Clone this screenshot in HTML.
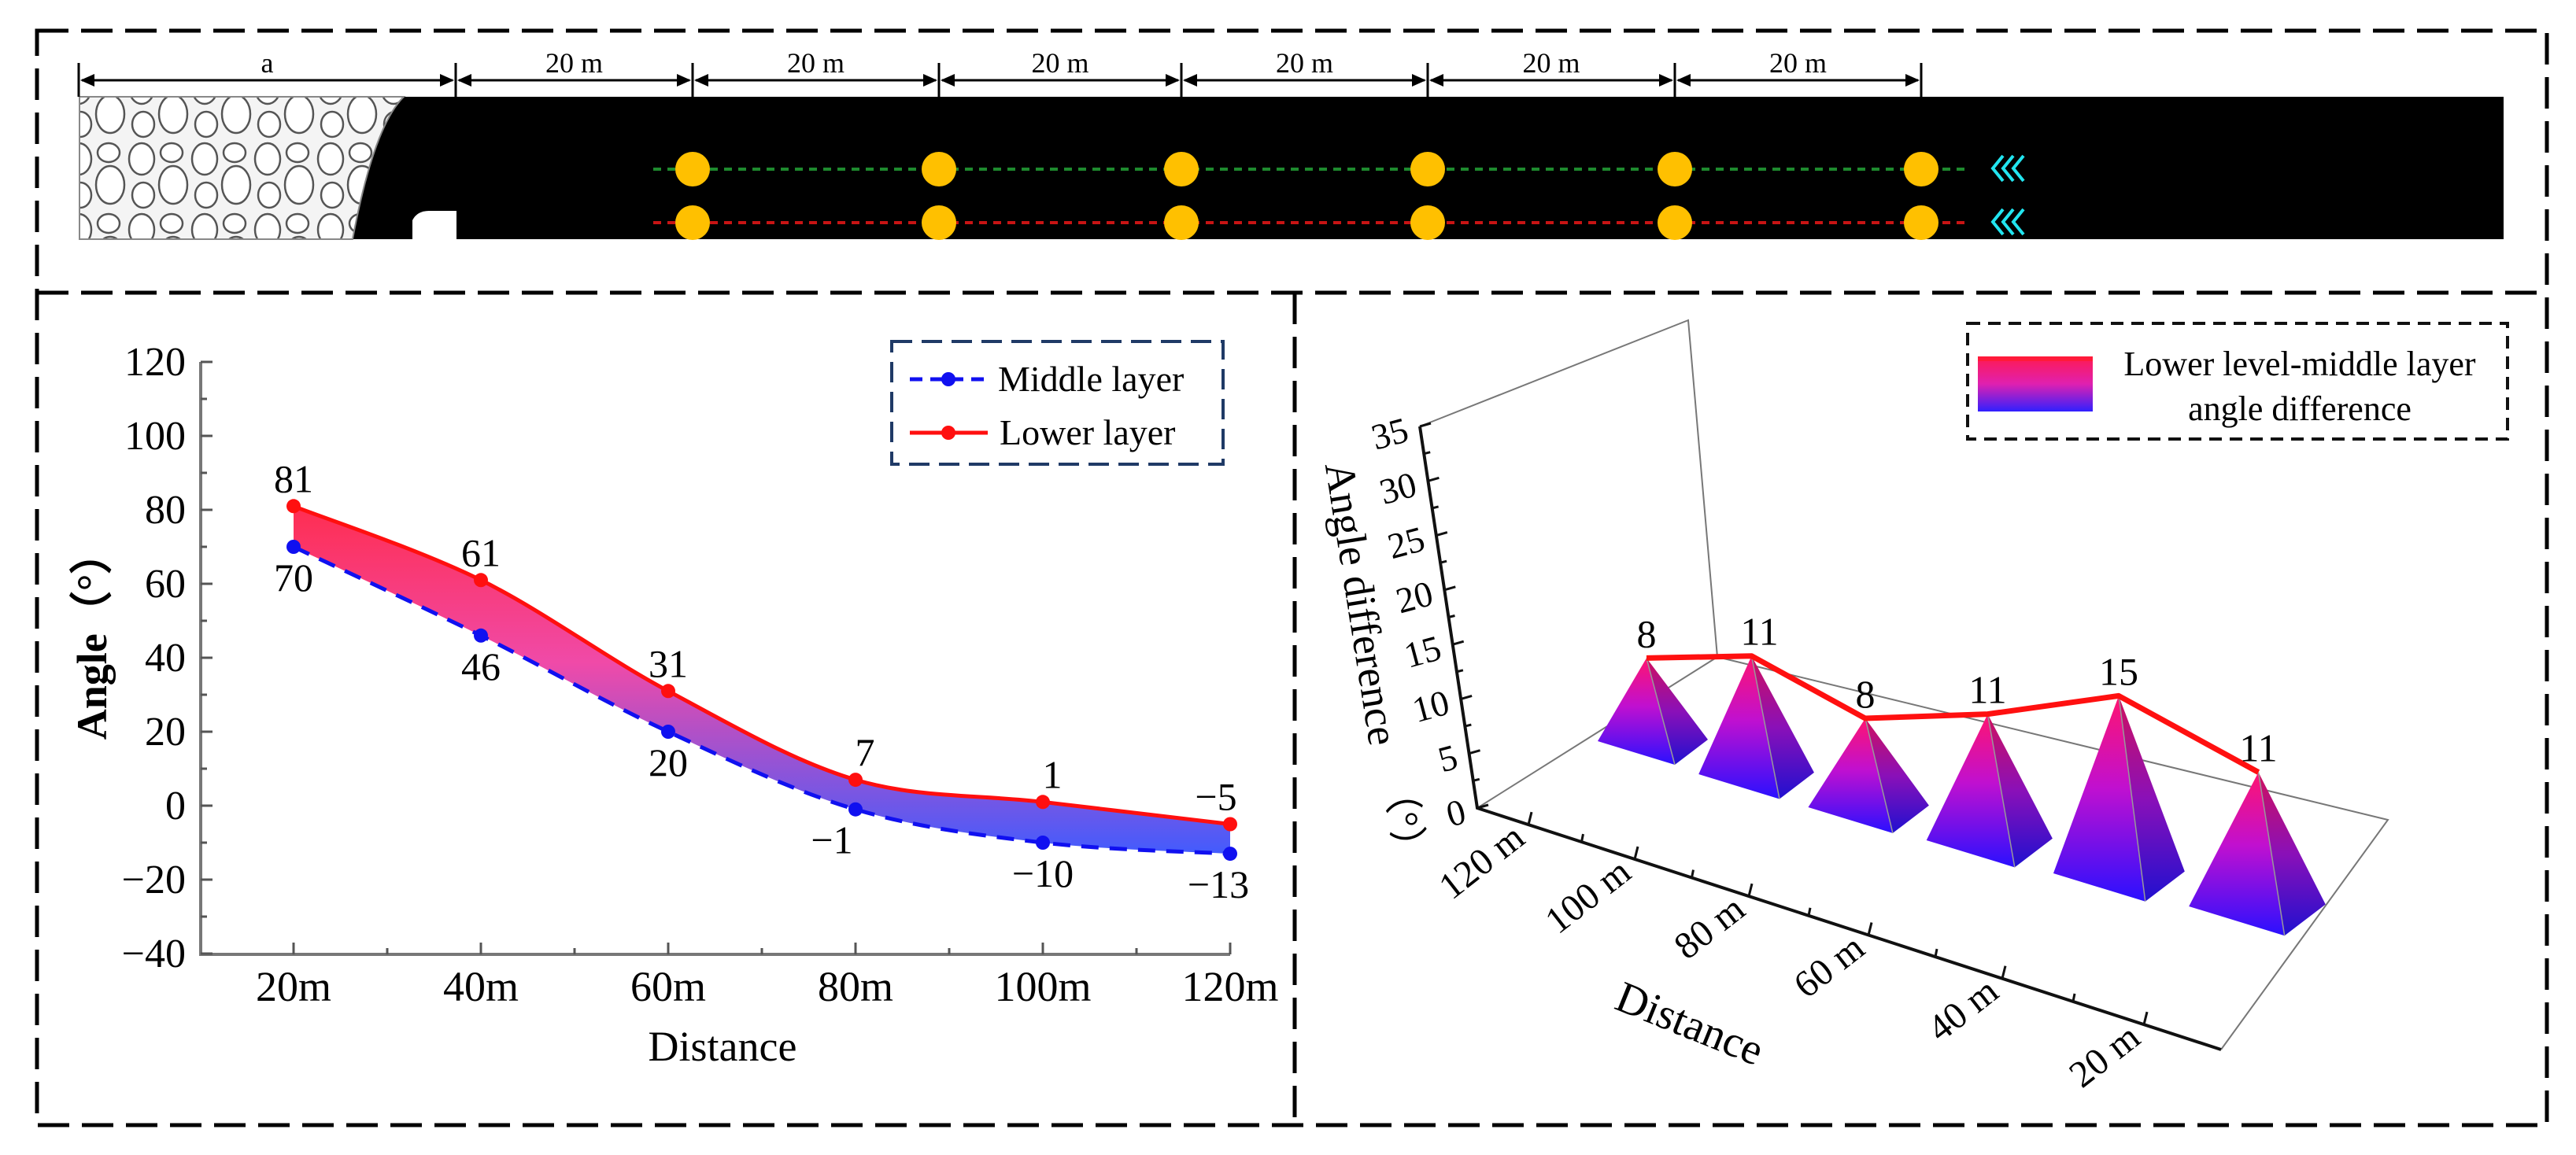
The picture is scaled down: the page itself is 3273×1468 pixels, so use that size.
<!DOCTYPE html>
<html><head><meta charset="utf-8"><style>
html,body{margin:0;padding:0;background:#fff;}
svg{display:block;}
svg text{font-family:"Liberation Serif","DejaVu Serif",serif;}
</style></head><body>
<svg id="root" width="3273" height="1468" viewBox="0 0 3273 1468" xmlns="http://www.w3.org/2000/svg" font-family="Liberation Serif, DejaVu Serif, serif">
<defs>
<pattern id="rubble" patternUnits="userSpaceOnUse" width="80" height="90">
<rect width="80" height="90" fill="#f4f4f4"/>
<ellipse cx="20" cy="22" rx="16" ry="20" fill="#fff" stroke="#555" stroke-width="2.5"/>
<ellipse cx="58" cy="14" rx="14" ry="12" fill="#fff" stroke="#555" stroke-width="2.5"/>
<ellipse cx="60" cy="55" rx="18" ry="24" fill="#fff" stroke="#555" stroke-width="2.5"/>
<ellipse cx="22" cy="68" rx="14" ry="16" fill="#fff" stroke="#555" stroke-width="2.5"/>
</pattern>
<linearGradient id="fillGrad" gradientUnits="userSpaceOnUse" x1="0" y1="640" x2="0" y2="1090">
<stop offset="0" stop-color="#ff2d4f"/><stop offset="0.45" stop-color="#f04aa8"/><stop offset="1" stop-color="#3f5cff"/>
</linearGradient>
<linearGradient id="pyrGrad" x1="0" y1="0" x2="0" y2="1">
<stop offset="0" stop-color="#ff1470"/><stop offset="0.45" stop-color="#c010d0"/><stop offset="1" stop-color="#2a10ff"/>
</linearGradient>
<linearGradient id="pyrGradD" x1="0" y1="0" x2="0" y2="1">
<stop offset="0" stop-color="#d0105e"/><stop offset="0.5" stop-color="#8a10b8"/><stop offset="1" stop-color="#2010d0"/>
</linearGradient>
<linearGradient id="legGrad" x1="0" y1="0" x2="0" y2="1">
<stop offset="0" stop-color="#ff1a50"/><stop offset="0.5" stop-color="#e020b0"/><stop offset="1" stop-color="#3020ff"/>
</linearGradient>
</defs>

<g fill="none" stroke="#000" stroke-width="5" stroke-dasharray="40 16">
<rect x="47" y="39" width="3189" height="1391"/>
<line x1="47" y1="372" x2="3236" y2="372"/>
<line x1="1645" y1="372" x2="1645" y2="1430"/>
</g>

<g>
<rect x="101" y="123" width="3080" height="181" fill="#000"/>
<path d="M101,123 L513,123 Q475,160 448,304 L101,304 Z" fill="url(#rubble)" stroke="#888" stroke-width="2"/>
<path d="M524,304 L524,280 Q530,268 545,268 L580,268 L580,304 Z" fill="#fff"/>
<g id="dims" stroke="#000" stroke-width="3"></g>
<line x1="830" y1="215" x2="2502" y2="215" stroke="#1e8a2e" stroke-width="4" stroke-dasharray="10 8"/>
<line x1="830" y1="283" x2="2502" y2="283" stroke="#c81414" stroke-width="4" stroke-dasharray="10 8"/>
<g id="dots"></g>
<g fill="none" stroke="#22e5f0" stroke-width="4">
<path d="M2545,198 L2532,214 L2545,230 M2558,198 L2545,214 L2558,230 M2571,198 L2558,214 L2571,230"/>
<path d="M2545,266 L2532,282 L2545,298 M2558,266 L2545,282 L2558,298 M2571,266 L2558,282 L2571,298"/>
</g>
</g>

<g id="left"></g>
<g id="right"></g>
</svg>
<script>
const schemLabels = ["a","20 m","20 m","20 m","20 m","20 m","20 m"];
const distCats = ["20m","40m","60m","80m","100m","120m"];
const middleVals = [70,46,20,-1,-10,-13];
const lowerVals = [81,61,31,7,1,-5];
const yTicks = [-40,-20,0,20,40,60,80,100,120];
const diffVals = [11,15,11,8,11,8];
const diffCats = ["20 m","40 m","60 m","80 m","100 m","120 m"];
const zTicks = [0,5,10,15,20,25,30,35];

const NS="http://www.w3.org/2000/svg";
function mk(tag, attrs, parent, text){
  const e=document.createElementNS(NS,tag);
  for(const k in attrs) e.setAttribute(k,attrs[k]);
  if(text!==undefined) e.textContent=text;
  parent.appendChild(e); return e;
}

const dims=document.getElementById('dims');
const tickX=[100,579,880,1193,1501,1814,2128,2441];
for(let i=0;i<tickX.length;i++){
  const t=mk('line',{x1:tickX[i],y1:80,x2:tickX[i],y2:123},dims);
  
  
}
for(let i=0;i<schemLabels.length;i++){
  const a=tickX[i], b=tickX[i+1];
  const l=mk('line',{x1:a+4,y1:102,x2:b-4,y2:102},dims);
  
  
  const h1=mk('path',{d:`M${a+2},102 l18,-8 l0,16 z`,fill:'#000',stroke:'none'},dims);
  
  
  const h2=mk('path',{d:`M${b-2},102 l-18,-8 l0,16 z`,fill:'#000',stroke:'none'},dims);
  
  
  const tx=mk('text',{x:(a+b)/2,y:92,'text-anchor':'middle','font-size':36,fill:'#000',stroke:'none'},dims,schemLabels[i]);
  
  
}
const dots=document.getElementById('dots');
for(let i=2;i<tickX.length;i++){
  for(const y of [215,283]){
    const c=mk('circle',{cx:tickX[i],cy:y,r:22,fill:'#ffc000'},dots);
    
    
  }
}

const L=document.getElementById('left');
const X0=373, DX=238, Y0=1024, PY=94/20;
const xs=i=>X0+i*DX, ys=v=>Y0-v*PY;
function spline(pts){
  let d=`M${pts[0][0]},${pts[0][1]}`;
  for(let i=0;i<pts.length-1;i++){
    const p0=pts[i-1]||pts[i],p1=pts[i],p2=pts[i+1],p3=pts[i+2]||p2;
    const c1=[p1[0]+(p2[0]-p0[0])/6,p1[1]+(p2[1]-p0[1])/6];
    const c2=[p2[0]-(p3[0]-p1[0])/6,p2[1]-(p3[1]-p1[1])/6];
    d+=` C${c1[0]},${c1[1]} ${c2[0]},${c2[1]} ${p2[0]},${p2[1]}`;
  }
  return d;
}
const lp=lowerVals.map((v,i)=>[xs(i),ys(v)]);
const mp=middleVals.map((v,i)=>[xs(i),ys(v)]);
const mpr=mp.slice().reverse();
const area=spline(lp)+' L'+mpr[0][0]+','+mpr[0][1]+' '+spline(mpr).slice(1).replace(/^[^C]*/,'')+' Z';
const ar=mk('path',{d:area,fill:'url(#fillGrad)'},L);


const ml=mk('path',{d:spline(mp),fill:'none',stroke:'#1010f0','stroke-width':5,'stroke-dasharray':'22 14'},L);


const ll=mk('path',{d:spline(lp),fill:'none',stroke:'#ff0f0f','stroke-width':5},L);


for(let i=0;i<6;i++){
  const a=mk('circle',{cx:mp[i][0],cy:mp[i][1],r:9,fill:'#1010f0'},L);
  
  
  const b=mk('circle',{cx:lp[i][0],cy:lp[i][1],r:9,fill:'#ff0f0f'},L);
  
  
  const lx = i===5? lp[i][0]-18 : lp[i][0]+(i>=3?12:0);
  const t1=mk('text',{x:lx,y:lp[i][1]-18,'text-anchor':'middle','font-size':50},L,String(lowerVals[i]).replace('-','\u2212'));
  
  
  const mx = i===3? mp[i][0]-30 : (i===5? mp[i][0]-15: mp[i][0]);
  const t2=mk('text',{x:mx,y:mp[i][1]+56,'text-anchor':'middle','font-size':50},L,String(middleVals[i]).replace('-','\u2212'));
  
  
}
const ax=mk('path',{d:`M255,${ys(120)} L255,1213 L1563,1213`,fill:'none',stroke:'#777','stroke-width':4},L);


for(const v of yTicks){
  const tk=mk('line',{x1:255,y1:ys(v),x2:270,y2:ys(v),stroke:'#555','stroke-width':3},L);
  
  
  if(v<120){const m=mk('line',{x1:255,y1:ys(v+10),x2:263,y2:ys(v+10),stroke:'#555','stroke-width':3},L);
  
  }
  const t=mk('text',{x:236,y:ys(v)+17,'text-anchor':'end','font-size':52},L,String(v).replace('-','\u2212'));
  
  
}
for(let i=0;i<6;i++){
  const tk=mk('line',{x1:xs(i),y1:1213,x2:xs(i),y2:1198,stroke:'#555','stroke-width':3},L);
  
  
  if(i<5){const m=mk('line',{x1:xs(i)+DX/2,y1:1213,x2:xs(i)+DX/2,y2:1205,stroke:'#555','stroke-width':3},L);
  
  }
  const t=mk('text',{x:xs(i),y:1272,'text-anchor':'middle','font-size':54},L,distCats[i]);
  
  
}
const xt=mk('text',{x:918,y:1348,'text-anchor':'middle','font-size':54},L,'Distance');


const yt=mk('text',{x:0,y:0,'text-anchor':'middle','font-size':54,'font-weight':'bold',transform:'translate(135,808) rotate(-90)'},L,'Angle（°）');


const lg=mk('g',{},L);


mk('rect',{x:1133,y:434,width:421,height:156,fill:'#fff',stroke:'#1f3a66','stroke-width':4,'stroke-dasharray':'26 12'},lg);
mk('line',{x1:1156,y1:482,x2:1255,y2:482,stroke:'#1010f0','stroke-width':5,'stroke-dasharray':'16 10'},lg);
mk('circle',{cx:1205,cy:482,r:9,fill:'#1010f0'},lg);
const le1=mk('text',{x:1268,y:497,'font-size':46},lg,'Middle layer');


mk('line',{x1:1156,y1:550,x2:1255,y2:550,stroke:'#ff0f0f','stroke-width':5},lg);
mk('circle',{cx:1205,cy:550,r:9,fill:'#ff0f0f'},lg);
const le2=mk('text',{x:1270,y:565,'font-size':46},lg,'Lower layer');



const R=document.getElementById('right');
const FL=[1877,1027], BL=[2182,835], BR=[3034,1042], FR=[2822,1334], TOPF=[1804,542], TOPB=[2145,407];
const fr=mk('path',{d:`M${TOPF} L${TOPB} L${BL} M${FL} L${BL} L${BR} L${FR}`,fill:'none',stroke:'#777','stroke-width':2},R);


const za=mk('path',{d:`M${TOPF} L${FL} L${FR}`,fill:'none',stroke:'#111','stroke-width':4},R);


const zpos=v=>[FL[0]+(TOPF[0]-FL[0])*v/35, FL[1]+(TOPF[1]-FL[1])*v/35];
for(const v of zTicks){
  const p=zpos(v);
  const tk=mk('line',{x1:p[0],y1:p[1],x2:p[0]+14,y2:p[1]-4,stroke:'#111','stroke-width':3},R);
  
  
  if(v<35){const q=zpos(v+2.5);const m=mk('line',{x1:q[0],y1:q[1],x2:q[0]+8,y2:q[1]-2,stroke:'#111','stroke-width':3},R);
  
  }
  const t=mk('text',{x:0,y:0,'text-anchor':'end','font-size':46,transform:`translate(${p[0]-12},${p[1]+18}) rotate(-15)`},R,String(v));
  
  
}
const zt=mk('text',{x:0,y:0,'text-anchor':'middle','font-size':54,transform:'translate(1712,770) rotate(81)'},R,'Angle difference');


const zu=mk('text',{x:0,y:0,'text-anchor':'middle','font-size':50,transform:'translate(1768,1045) rotate(81)'},R,'（°）');


const axisX=[1942,2077,2222,2374,2544,2724];
const lineY=x=>FL[1]+(x-FL[0])*(FR[1]-FL[1])/(FR[0]-FL[0]);
for(let j=0;j<6;j++){
  const x=axisX[j], y=lineY(x);
  const tk=mk('line',{x1:x,y1:y,x2:x+4,y2:y-16,stroke:'#111','stroke-width':3},R);
  
  
  if(j<5){const mx=(x+axisX[j+1])/2;const m=mk('line',{x1:mx,y1:lineY(mx),x2:mx+2,y2:lineY(mx)-10,stroke:'#111','stroke-width':3},R);
  
  }
  const t=mk('text',{x:0,y:0,'text-anchor':'end','font-size':48,transform:`translate(${x-2},${y+22}) rotate(-38)`},R,diffCats[5-j]);
  
  
}
const dt=mk('text',{x:0,y:0,'text-anchor':'middle','font-size':56,transform:'translate(2140,1318) rotate(22)'},R,'Distance');


const apexes=[];
for(let i=0;i<6;i++){
  const v=diffVals[5-i];
  const cx=2098+126*i+5.5*i*i, cy=942+42*i, s=1+0.048*i;
  const k=13.2+0.46*i;
  const ap=[cx-6+2*i, cy-v*k];
  apexes.push(ap);
  const left=[cx-68*s,cy], front=[cx+30*s,cy+30*s], right=[cx+72*s,cy-2*s];
  const g=mk('g',{},R);
  
  
  mk('path',{d:`M${ap} L${left} L${front} Z`,fill:'url(#pyrGrad)'},g);
  mk('path',{d:`M${ap} L${front} L${right} Z`,fill:'url(#pyrGradD)'},g);
  mk('line',{x1:ap[0],y1:ap[1],x2:front[0],y2:front[1],stroke:'#999','stroke-width':1.5},g);
}
const rl=mk('polyline',{points:apexes.map(p=>p.join(',')).join(' '),fill:'none',stroke:'#ff1010','stroke-width':7,'stroke-linejoin':'round'},R);


for(let i=0;i<6;i++){
  const p=apexes[i];
  const t=mk('text',{x:p[0]+(i===1?10:0),y:p[1]-14,'text-anchor':'middle','font-size':50},R,String(diffVals[5-i]));
  
  
}
const rg=mk('g',{},R);


mk('rect',{x:2500,y:411,width:686,height:147,fill:'#fff',stroke:'#111','stroke-width':4,'stroke-dasharray':'16 10'},rg);
mk('rect',{x:2513,y:453,width:146,height:70,fill:'url(#legGrad)'},rg);
mk('line',{x1:2513,y1:456,x2:2659,y2:456,stroke:'#ff1a3a','stroke-width':6},rg);
mk('text',{x:2922,y:477,'text-anchor':'middle','font-size':44},rg,'Lower level-middle layer');
mk('text',{x:2922,y:534,'text-anchor':'middle','font-size':44},rg,'angle difference');
</script>
</body></html>
